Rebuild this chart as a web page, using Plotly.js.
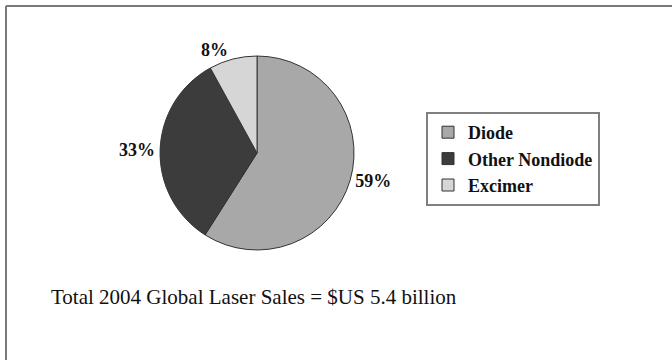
<!DOCTYPE html>
<html>
<head>
<meta charset="utf-8">
<script src="https://cdn.plot.ly/plotly-3.0.1.min.js"></script>
<style>
  html, body { margin: 0; padding: 0; background: #fff; }
  #chart { width: 672px; height: 360px; }
</style>
</head>
<body>
<div id="chart"></div>
<script>
// Global laser sales share by type, 2004
const categories = ['Diode', 'Other Nondiode', 'Excimer'];
const shares = [59, 33, 8];
const sliceColors = ['#a8a8a8', '#3c3c3c', '#d6d6d6'];
const footnote = 'Total 2004 Global Laser Sales = $US 5.4 billion';

const serif = '"Liberation Serif", "Times New Roman", serif';

const trace = {
  type: 'pie',
  labels: categories,
  values: shares,
  sort: false,
  direction: 'clockwise',
  rotation: 0,
  marker: { colors: sliceColors, line: { color: '#333333', width: 1 } },
  textposition: 'outside',
  texttemplate: '%{percent:.0%}',
  textfont: { family: serif, size: 18, color: '#111111', weight: 'bold' },
  hoverinfo: 'label+percent',
  domain: { x: [0.238, 0.527], y: [0.3056, 0.8444] }
};

const layout = {
  width: 672,
  height: 360,
  margin: { l: 0, r: 0, t: 0, b: 0 },
  paper_bgcolor: '#ffffff',
  showlegend: true,
  legend: {
    x: 426 / 672, xanchor: 'left',
    y: 1 - 112 / 360, yanchor: 'top',
    bgcolor: '#ffffff',
    bordercolor: '#808080',
    borderwidth: 2,
    font: { family: serif, size: 18, color: '#111111', weight: 'bold' },
    tracegroupgap: 0,
    itemwidth: 30
  },
  shapes: [
    { type: 'line', xref: 'paper', yref: 'paper', x0: 6 / 672, x1: 1, y0: 1 - 6 / 360, y1: 1 - 6 / 360,
      line: { color: '#7a7a7a', width: 2 } },
    { type: 'line', xref: 'paper', yref: 'paper', x0: 6 / 672, x1: 6 / 672, y0: 0, y1: 1 - 6 / 360,
      line: { color: '#7a7a7a', width: 2 } }
  ],
  annotations: [
    { text: footnote, xref: 'paper', yref: 'paper', x: 49 / 672, xanchor: 'left',
      y: 1 - 297 / 360, yanchor: 'middle', showarrow: false,
      font: { family: serif, size: 21, color: '#111111' } }
  ]
};

Plotly.newPlot('chart', [trace], layout, { displayModeBar: false, staticPlot: true });
</script>
</body>
</html>
